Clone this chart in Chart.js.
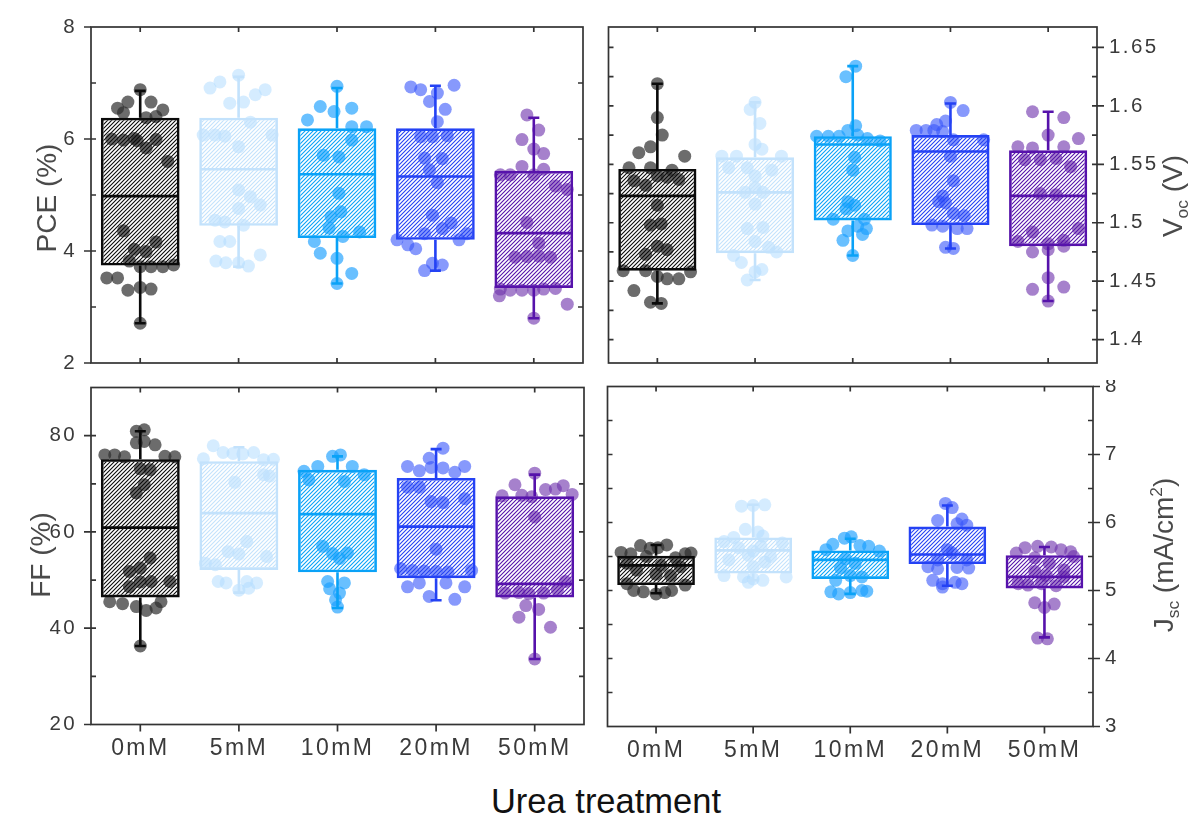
<!DOCTYPE html>
<html>
<head>
<meta charset="utf-8">
<script src="https://cdn.jsdelivr.net/npm/chart.js@4.4.0/dist/chart.umd.min.js"></script>
<style>
  body { margin: 0; background: #fff; width: 1192px; height: 821px; position: relative; overflow: hidden;
         font-family: "Liberation Sans", Arial, sans-serif; }
  canvas { position: absolute; }
  #xtitle { position: absolute; left: 10px; width: 1192px; top: 784px; text-align: center;
            font-size: 34.5px; line-height: 34px; color: #111; }
</style>
</head>
<body>
<canvas id="pce" width="600" height="380" style="left:0;top:0"></canvas>
<canvas id="voc" width="592" height="380" style="left:600px;top:0"></canvas>
<canvas id="ff" width="600" height="400" style="left:0;top:380px"></canvas>
<canvas id="jsc" width="592" height="400" style="left:600px;top:380px"></canvas>
<div id="xtitle">Urea treatment</div>
<script>
const groups = ['0mM', '5mM', '10mM', '20mM', '50mM'];
const boxColors = ['#0a0a0a', '#c3e2fc', '#0aa2f7', '#2442f4', '#5612ab'];
const dotColors = ['rgba(45,45,45,0.7)', 'rgba(178,221,255,0.55)', 'rgba(25,158,255,0.65)',
                   'rgba(55,85,250,0.6)', 'rgba(112,52,172,0.62)'];

// box rows: [lower whisker, Q1, median, Q3, upper whisker]
const pceBox = [
  [2.71, 3.74, 4.98, 6.38, 6.86],
  [3.72, 4.45, 5.46, 6.38, 7.11],
  [3.42, 4.23, 5.37, 6.19, 6.91],
  [3.65, 4.20, 5.33, 6.19, 6.95],
  [2.80, 3.34, 4.32, 5.43, 6.38]
];
// device points: [jitter, value]
const pcePoints = [
  [[0,6.88],[-0.125,6.66],[0.11,6.66],[-0.23,6.55],[0.23,6.52],[-0.17,6.47],[0.06,6.38],[0.16,6.40],
   [-0.29,6.00],[-0.17,5.98],[-0.06,6.01],[-0.03,5.97],[0.16,5.99],[0.06,5.84],[0.28,5.60],[-0.17,4.36],
   [0.16,4.16],[-0.06,4.03],[0.06,3.99],[-0.11,3.82],[0,3.72],[0.11,3.72],[0.23,3.72],[0.34,3.75],
   [-0.34,3.52],[-0.23,3.52],[-0.125,3.30],[0,3.35],[0.11,3.32],[0,2.71]],
  [[0,7.14],[-0.29,6.91],[-0.19,7.02],[0.17,6.79],[0.27,6.88],[-0.09,6.64],[0.05,6.66],[0.12,6.30],
   [-0.36,6.07],[-0.24,6.07],[-0.14,6.05],[0,5.86],[0.34,6.07],[0,5.09],[0.12,4.97],[0.22,4.82],
   [0,4.76],[-0.24,4.55],[-0.14,4.52],[0.05,4.46],[-0.19,4.17],[-0.09,4.17],[0.22,3.93],[-0.23,3.82],
   [-0.13,3.79],[0,3.79],[0.1,3.73]],
  [[0,6.94],[-0.17,6.58],[0.15,6.55],[-0.03,6.49],[-0.30,6.34],[0.15,6.22],[0.30,6.22],[0.15,5.98],
   [-0.14,5.71],[0.02,5.68],[0.02,5.03],[0.04,4.70],[-0.06,4.61],[-0.08,4.41],[0.23,4.34],[0.06,4.26],
   [-0.23,4.17],[-0.17,3.96],[0,3.87],[0.15,3.60],[0,3.42]],
  [[-0.25,6.93],[-0.15,6.88],[0.02,6.82],[0.19,6.96],[-0.06,6.67],[0.10,6.53],[0.02,6.31],[-0.15,6.04],
   [-0.03,6.04],[0.12,6.06],[-0.11,5.66],[0.07,5.65],[-0.06,5.45],[0.02,5.22],[-0.03,4.64],[0.16,4.50],
   [0.07,4.40],[-0.11,4.31],[0.32,4.31],[-0.39,4.20],[-0.28,4.11],[-0.2,4.04],[0.24,4.20],[-0.03,3.78],
   [0.07,3.75],[-0.11,3.65]],
  [[-0.07,6.43],[0.05,6.16],[-0.12,5.99],[0,5.82],[0.10,5.74],[-0.12,5.51],[0.10,5.46],[-0.34,5.36],
   [-0.24,5.36],[0,5.36],[0.22,5.16],[0.34,5.10],[-0.07,4.51],[0.05,4.14],[-0.19,3.89],[-0.07,3.90],
   [0.05,3.91],[0.17,3.89],[-0.34,3.32],[-0.24,3.30],[-0.12,3.30],[0,3.30],[0.10,3.32],[0.22,3.33],
   [-0.35,3.20],[0.34,3.05],[0,2.80]]
];

const vocBox = [
  [1.431, 1.459, 1.523, 1.546, 1.619],
  [1.451, 1.474, 1.526, 1.556, 1.603],
  [1.472, 1.502, 1.567, 1.574, 1.634],
  [1.478, 1.498, 1.561, 1.575, 1.602],
  [1.433, 1.480, 1.523, 1.562, 1.595]
];
const vocPoints = [
  [[0,1.619],[0,1.590],[0.05,1.575],[-0.07,1.565],[-0.19,1.560],[0.28,1.557],[-0.29,1.547],[-0.07,1.547],
   [0.15,1.545],[0,1.540],[0.10,1.539],[0.22,1.537],[-0.24,1.536],[-0.12,1.532],[0,1.515],[-0.07,1.498],
   [0.04,1.499],[0,1.480],[0.10,1.477],[-0.12,1.473],[-0.35,1.459],[-0.12,1.459],[0,1.454],[0.10,1.452],
   [0.22,1.452],[0.34,1.458],[-0.24,1.442],[-0.07,1.432],[0.04,1.431]],
  [[0,1.603],[-0.05,1.597],[0.05,1.585],[0,1.567],[0.07,1.563],[-0.34,1.557],[-0.19,1.557],[0.27,1.557],
   [-0.27,1.547],[-0.08,1.547],[0.17,1.545],[0,1.540],[0,1.530],[-0.10,1.526],[0.08,1.526],[0,1.516],
   [-0.08,1.495],[0.08,1.496],[0,1.484],[0.14,1.479],[0.22,1.475],[-0.22,1.472],[-0.14,1.466],[0.07,1.460],
   [0,1.458],[-0.08,1.451]],
  [[0.03,1.634],[-0.07,1.625],[0.03,1.583],[-0.05,1.579],[-0.37,1.574],[-0.25,1.574],[-0.14,1.574],
   [0.05,1.575],[0.15,1.572],[0.28,1.570],[0.02,1.556],[0,1.545],[-0.05,1.518],[0.02,1.515],[-0.07,1.512],
   [0.12,1.503],[-0.2,1.503],[0.05,1.497],[0.14,1.495],[-0.05,1.493],[0.1,1.490],[-0.1,1.485],[0,1.472]],
  [[0,1.603],[0.13,1.596],[-0.05,1.587],[-0.14,1.584],[-0.35,1.579],[-0.25,1.579],[-0.17,1.579],
   [-0.08,1.578],[0.03,1.571],[0.34,1.571],[0,1.557],[0.03,1.536],[-0.08,1.523],[-0.05,1.517],[-0.12,1.518],
   [0.03,1.508],[0.14,1.506],[-0.19,1.498],[-0.08,1.497],[0.07,1.495],[0.17,1.495],[-0.05,1.479],[0.03,1.478]],
  [[-0.16,1.595],[0.16,1.590],[0,1.575],[0.31,1.572],[-0.31,1.565],[-0.16,1.564],[0.16,1.565],
   [-0.24,1.554],[-0.08,1.554],[0.08,1.555],[0.23,1.548],[-0.08,1.525],[0.08,1.524],[-0.16,1.492],
   [0.31,1.495],[-0.31,1.484],[0,1.482],[0.16,1.485],[-0.16,1.475],[0,1.477],[0.16,1.480],[0,1.453],
   [-0.16,1.443],[0.16,1.445],[0,1.433]]
];

const ffBox = [
  [36.3, 46.4, 60.9, 75.1, 80.9],
  [47.4, 52.1, 63.9, 74.7, 77.6],
  [44.2, 51.6, 63.7, 72.9, 75.7],
  [45.8, 50.4, 61.1, 71.2, 77.2],
  [33.6, 46.4, 49.2, 67.4, 71.9]
];
const ffPoints = [
  [[-0.04,80.9],[0.04,81.2],[-0.04,78.5],[0.04,78.8],[0.15,78.1],[-0.36,76.0],[-0.26,76.0],[-0.16,75.6],
   [0.25,75.7],[0.35,75.6],[0,73.1],[0.1,72.9],[0.04,69.8],[-0.04,68.1],[0.1,54.6],[-0.11,51.8],[0,52.5],
   [0.11,49.7],[0.3,49.7],[-0.11,48.6],[0,49.6],[-0.31,45.5],[-0.18,45.1],[-0.04,44.5],[0.06,43.7],
   [0.16,44.2],[0.21,45.5],[0,36.3]],
  [[-0.26,77.9],[-0.16,76.5],[-0.06,76.3],[0.04,76.2],[0.15,76.5],[-0.36,75.2],[0.25,75.0],[0.35,75.1],
   [-0.04,70.3],[0.25,71.9],[0.31,71.6],[0.08,58.0],[-0.11,55.9],[0,55.4],[0.28,54.9],[-0.34,53.5],
   [-0.24,53.2],[-0.21,49.7],[-0.13,49.4],[0.08,49.7],[0.18,49.4],[0,47.9],[0.1,48.3]],
  [[-0.05,75.7],[0.03,76.0],[-0.2,73.6],[0.15,73.6],[-0.34,72.6],[0.27,71.9],[-0.29,70.8],[0.07,70.5],
   [-0.15,57.0],[-0.05,55.5],[0.1,55.6],[0.02,54.5],[-0.1,49.7],[0.07,49.4],[-0.08,48.2],[0.02,47.3],
   [-0.02,45.9],[0,44.4]],
  [[0.07,77.4],[-0.07,75.3],[-0.29,73.6],[-0.17,72.7],[-0.05,73.4],[0.07,73.3],[0.29,73.6],[0.19,72.4],
   [-0.29,69.3],[-0.17,69.3],[-0.05,66.3],[0.07,66.1],[0.29,66.9],[0,56.4],[-0.36,52.4],[-0.24,52.0],
   [-0.12,51.9],[0,51.8],[0.12,51.7],[0.36,52.0],[-0.29,48.6],[-0.17,49.4],[0.10,49.4],[0.29,48.6],
   [-0.07,46.6],[0.19,46.0]],
  [[0,72.2],[-0.2,69.8],[0.11,68.8],[0.21,68.9],[0.29,69.6],[-0.33,67.5],[-0.13,67.6],[-0.03,67.3],
   [0.38,67.8],[0,63.1],[0.31,49.7],[-0.3,47.3],[-0.16,47.4],[-0.06,47.2],[0.09,47.3],[0.23,48.0],
   [-0.09,44.7],[0.04,43.9],[-0.16,42.3],[0.16,40.2],[0,33.6]]
];

const jscBox = [
  [4.96, 5.08, 5.37, 5.51, 5.67],
  [5.15, 5.25, 5.59, 5.78, 6.26],
  [4.95, 5.17, 5.45, 5.59, 5.76],
  [5.07, 5.39, 5.53, 5.94, 6.25],
  [4.31, 5.03, 5.20, 5.52, 5.64]
];
const jscPoints = [
  [[-0.16,5.66],[-0.06,5.62],[0.11,5.67],[0.02,5.63],[-0.36,5.56],[-0.26,5.54],[0.3,5.54],[0.36,5.55],
   [-0.1,5.50],[0.2,5.48],[-0.3,5.40],[0.05,5.37],[0.25,5.35],[-0.2,5.30],[0,5.24],[0.15,5.22],
   [-0.3,5.10],[0.3,5.08],[-0.23,5.00],[-0.13,4.98],[0,4.95],[0.09,4.97],[0.16,5.00]],
  [[-0.12,6.24],[0,6.25],[0.12,6.26],[-0.08,5.90],[0.05,5.86],[-0.2,5.78],[0.1,5.80],[-0.3,5.72],
   [0.3,5.70],[-0.15,5.63],[0.08,5.65],[0,5.58],[-0.05,5.52],[0.18,5.50],[-0.25,5.45],[0.12,5.42],
   [0,5.35],[-0.3,5.22],[-0.1,5.20],[0,5.17],[0.1,5.15],[0.34,5.20],[-0.05,5.12]],
  [[-0.06,5.77],[0.01,5.79],[-0.18,5.68],[0.1,5.66],[0.19,5.65],[-0.25,5.60],[0.3,5.58],[-0.05,5.47],
   [0.05,5.40],[-0.1,5.33],[0,5.22],[0.12,5.20],[-0.15,5.15],[-0.2,4.98],[-0.12,4.95],[0,4.97],
   [0.12,5.00],[0.17,4.99]],
  [[-0.02,6.28],[0.05,6.22],[-0.1,6.03],[0.15,6.05],[0.1,5.98],[0.2,5.96],[0,5.60],[0.05,5.55],
   [-0.1,5.45],[0.2,5.45],[-0.2,5.35],[-0.1,5.32],[0.1,5.34],[0.22,5.33],[-0.15,5.15],[-0.05,5.10],
   [0.08,5.12],[0.15,5.10],[-0.05,5.05]],
  [[-0.2,5.63],[-0.07,5.65],[0.07,5.64],[0.17,5.60],[-0.29,5.55],[0.27,5.57],[0.3,5.50],[-0.1,5.48],
   [0.05,5.40],[0.2,5.30],[-0.1,5.28],[0.02,5.22],[0.2,5.20],[-0.27,5.10],[-0.17,5.08],[-0.03,5.10],
   [0.12,5.07],[-0.1,4.82],[0,4.75],[0.1,4.80],[-0.07,4.30],[0.03,4.29]]
];

const pceTicks = [2, 4, 6, 8];
const pceMinor = [3, 4, 5, 6, 7];
const vocTicks = [1.4, 1.45, 1.5, 1.55, 1.6, 1.65];
const vocMinor = [1.4, 1.425, 1.45, 1.475, 1.5, 1.525, 1.55, 1.575, 1.6, 1.625, 1.65];
const ffTicks = [20, 40, 60, 80];
const ffMinor = [30, 40, 50, 60, 70, 80];
const jscTicks = [3, 4, 5, 6, 7, 8];
const jscMinor = [3.5, 4, 4.5, 5, 5.5, 6, 6.5, 7, 7.5];

const FONT = '"Liberation Sans", Arial, sans-serif';
const LABEL_SPACING = '2.4px';
Chart.defaults.font.family = FONT;

function hatch(color) {
  const s = 4;
  const c = document.createElement('canvas');
  c.width = s; c.height = s;
  const g = c.getContext('2d');
  g.strokeStyle = color;
  g.lineWidth = 1.1;
  g.beginPath();
  g.moveTo(0, s); g.lineTo(s, 0);
  g.moveTo(-1, 1); g.lineTo(1, -1);
  g.moveTo(s - 1, s + 1); g.lineTo(s + 1, s - 1);
  g.stroke();
  return g.createPattern(c, 'repeat');
}

// axis title with optional sub/superscript parts, written bottom-to-top
function drawTitle(ctx, parts, cx, cy, size) {
  ctx.save();
  ctx.letterSpacing = '0px';
  ctx.translate(cx, cy);
  ctx.rotate(-Math.PI / 2);
  ctx.fillStyle = '#4a4a4a';
  ctx.textBaseline = 'alphabetic';
  const fonts = parts.map(p => (p[1] ? size * 0.62 : size) + 'px ' + FONT);
  let total = 0;
  parts.forEach((p, j) => { ctx.font = fonts[j]; total += ctx.measureText(p[0]).width; });
  let x = -total / 2;
  parts.forEach((p, j) => {
    ctx.font = fonts[j];
    const dy = p[1] === 1 ? size * 0.22 : p[1] === 2 ? -size * 0.4 : 0;
    ctx.fillText(p[0], x, size * 0.36 + dy);
    x += ctx.measureText(p[0]).width;
  });
  ctx.restore();
}

function framePlugin(cfg) {
  return {
    id: 'frame',
    // tick labels are drawn slightly letter-spaced
    beforeUpdate(chart) { chart.ctx.letterSpacing = LABEL_SPACING; },
    beforeDraw(chart) { chart.ctx.letterSpacing = LABEL_SPACING; },
    afterDraw(chart) {
      const {ctx, chartArea: a, scales: {x, y}} = chart;
      const tIn = 5, tOut = 7;
      ctx.save();
      ctx.strokeStyle = '#333';
      ctx.lineWidth = 1.7;
      ctx.strokeRect(a.left, a.top, a.width, a.height);
      ctx.beginPath();
      cfg.minor.forEach(v => {
        const py = y.getPixelForValue(v);
        ctx.moveTo(a.left, py); ctx.lineTo(a.left + tIn, py);
        ctx.moveTo(a.right, py); ctx.lineTo(a.right - tIn, py);
      });
      cfg.ticks.forEach(v => {
        const py = y.getPixelForValue(v);
        if (cfg.side === 'left') { ctx.moveTo(a.left, py); ctx.lineTo(a.left - tOut, py); }
        else { ctx.moveTo(a.right, py); ctx.lineTo(a.right + tOut, py); }
      });
      groups.forEach((g, i) => {
        const px = x.getPixelForValue(i);
        ctx.moveTo(px, a.top); ctx.lineTo(px, a.top + tIn);
        ctx.moveTo(px, a.bottom); ctx.lineTo(px, cfg.xLabels ? a.bottom + tOut : a.bottom - tIn);
      });
      ctx.stroke();
      ctx.restore();
      drawTitle(ctx, cfg.title, cfg.titleX, cfg.titleY, 28);
    }
  };
}

function boxPlugin(stats) {
  return {
    id: 'boxPlot',
    afterDatasetsDraw(chart) {
      const {ctx, scales: {x, y}} = chart;
      const bars = chart.getDatasetMeta(0).data;
      stats.forEach((s, i) => {
        const [lo, q1, med, q3, hi] = s;
        const cx = x.getPixelForValue(i);
        const half = bars[i].width / 2;
        ctx.save();
        ctx.strokeStyle = boxColors[i];
        ctx.lineWidth = 2.6;
        ctx.beginPath();
        ctx.moveTo(cx, y.getPixelForValue(q3)); ctx.lineTo(cx, y.getPixelForValue(hi));
        ctx.moveTo(cx, y.getPixelForValue(q1)); ctx.lineTo(cx, y.getPixelForValue(lo));
        [lo, hi].forEach(v => {
          const py = y.getPixelForValue(v);
          ctx.moveTo(cx - 5.5, py); ctx.lineTo(cx + 5.5, py);
        });
        const pm = y.getPixelForValue(med);
        ctx.moveTo(cx - half + 1, pm); ctx.lineTo(cx + half - 1, pm);
        ctx.stroke();
        ctx.restore();
      });
    }
  };
}

function makePanel(id, cfg) {
  const datasets = [{
    data: cfg.box.map((b, i) => ({x: i, y: [b[1], b[3]]})),
    backgroundColor: boxColors.map(hatch),
    borderColor: boxColors,
    borderWidth: 2.6,
    borderSkipped: false,
    barPercentage: 0.8,
    categoryPercentage: 1,
    order: 0
  }];
  cfg.points.forEach((pts, i) => {
    datasets.push({
      type: 'scatter',
      data: pts.map(p => ({x: i + p[0], y: p[1]})),
      backgroundColor: dotColors[i],
      pointRadius: 6.5,
      borderWidth: 0,
      order: 1
    });
  });

  return new Chart(document.getElementById(id), {
    type: 'bar',
    data: {datasets},
    options: {
      responsive: false,
      animation: false,
      events: [],
      layout: {padding: cfg.padding},
      plugins: {legend: {display: false}, tooltip: {enabled: false}},
      scales: {
        x: {
          type: 'linear', min: -0.5, max: 4.5, offset: false,
          grid: {display: false, drawTicks: false},
          border: {display: false},
          afterBuildTicks: s => { s.ticks = groups.map((g, i) => ({value: i})); },
          afterFit: s => { s.height = cfg.xHeight; s.paddingLeft = 0; s.paddingRight = 0; },
          ticks: {
            display: cfg.xLabels, autoSkip: false, maxRotation: 0, padding: 10,
            color: '#3a3a3a', font: {size: 23},
            callback: v => groups[v]
          }
        },
        y: {
          type: 'linear', position: cfg.side, min: cfg.min, max: cfg.max,
          grid: {display: false, drawTicks: false},
          border: {display: false},
          afterBuildTicks: s => { s.ticks = cfg.ticks.map(v => ({value: v})); },
          afterFit: s => { s.width = cfg.yWidth; s.paddingTop = 0; s.paddingBottom = 0; },
          ticks: {
            padding: cfg.side === 'left' ? 14 : 12, color: '#3a3a3a', font: {size: 20.5},
            callback: v => String(+v.toFixed(3))
          }
        }
      }
    },
    plugins: [framePlugin(cfg), boxPlugin(cfg.box)]
  });
}

makePanel('pce', {
  box: pceBox, points: pcePoints, min: 2, max: 8, ticks: pceTicks, minor: pceMinor,
  side: 'left', xLabels: false, yWidth: 91, xHeight: 17,
  padding: {left: 0, top: 27, right: 17, bottom: 0},
  title: [['PCE (%)', 0]], titleX: 46, titleY: 198
});
makePanel('voc', {
  box: vocBox, points: vocPoints, min: 1.38, max: 1.6675, ticks: vocTicks, minor: vocMinor,
  side: 'right', xLabels: false, yWidth: 95, xHeight: 17,
  padding: {left: 8.5, top: 27, right: 0, bottom: 0},
  title: [['V', 0], ['oc', 1], [' (V)', 0]], titleX: 572, titleY: 196
});
makePanel('ff', {
  box: ffBox, points: ffPoints, min: 20, max: 90, ticks: ffTicks, minor: ffMinor,
  side: 'left', xLabels: true, yWidth: 91, xHeight: 55.5,
  padding: {left: 0, top: 7.5, right: 16, bottom: 0},
  title: [['FF (%)', 0]], titleX: 40, titleY: 175
});
makePanel('jsc', {
  box: jscBox, points: jscPoints, min: 3, max: 8, ticks: jscTicks, minor: jscMinor,
  side: 'right', xLabels: true, yWidth: 99, xHeight: 53.5,
  padding: {left: 7.5, top: 6, right: 0, bottom: 0},
  title: [['J', 0], ['sc', 1], [' (mA/cm', 0], ['2', 2], [')', 0]], titleX: 563, titleY: 175
});
</script>
</body>
</html>
